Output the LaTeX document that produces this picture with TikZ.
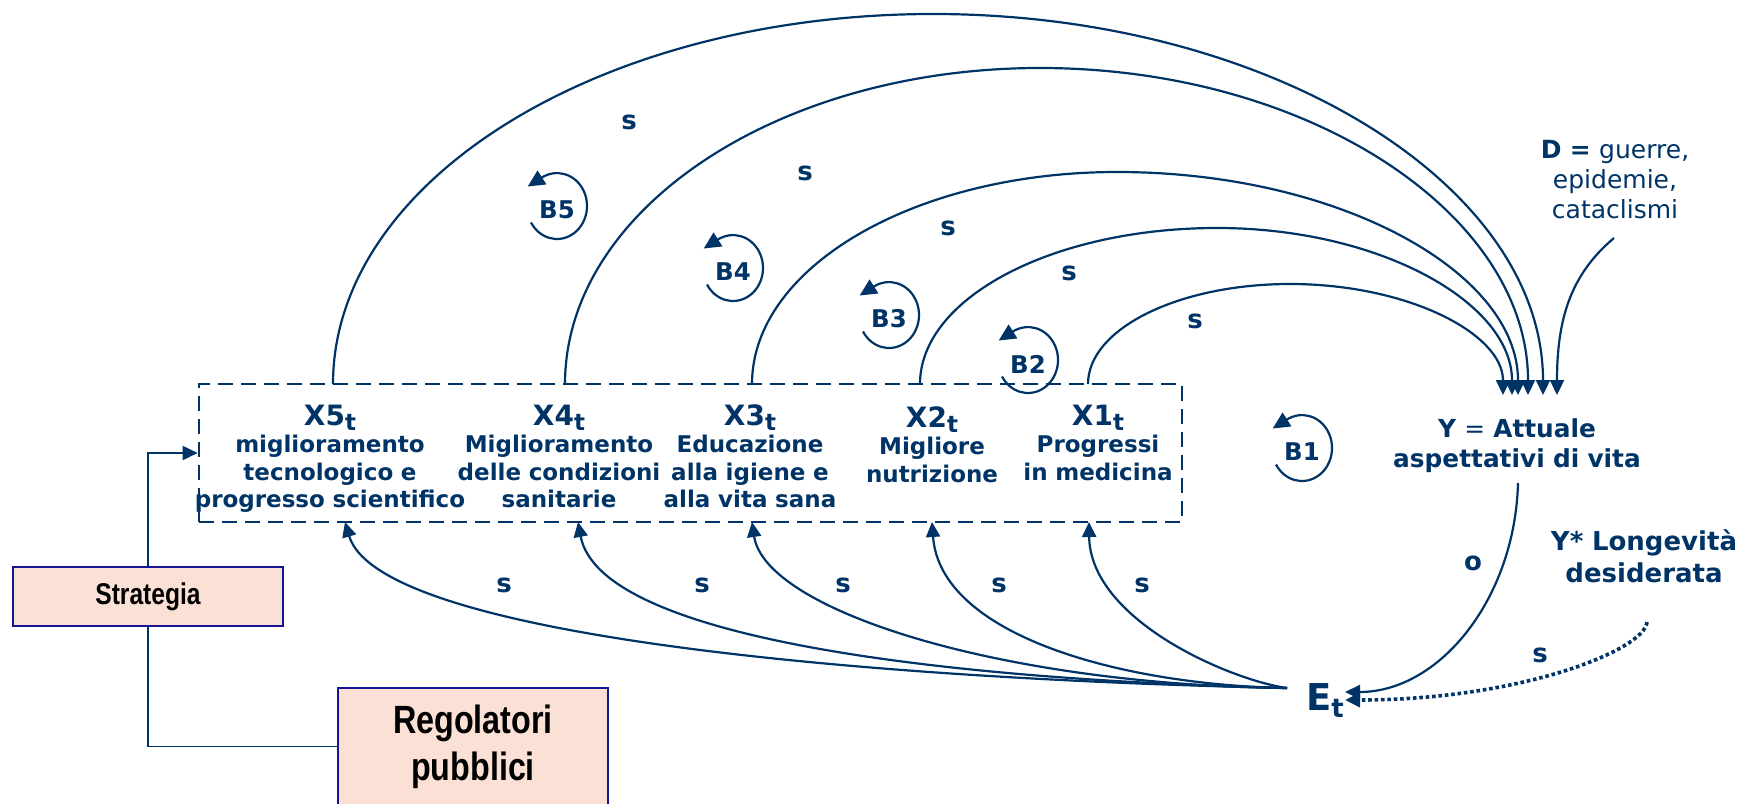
\documentclass[tikz,border=0pt]{standalone}
\usepackage{fontspec}
\setmainfont{DejaVu Sans}
\newfontfamily\narrowfont[FakeStretch=0.82]{Liberation Sans}
\usetikzlibrary{arrows.meta}
\definecolor{navy}{RGB}{0,51,102}
\definecolor{peach}{RGB}{251,225,213}
\definecolor{boxblue}{RGB}{20,20,150}
% title of a factor with its time index
\newcommand{\xt}[1]{{\fontsize{14}{16}\selectfont #1\raisebox{-2.6pt}{\fontsize{11.5}{13}\selectfont t}}}
\begin{document}
\begin{tikzpicture}[x=0.5pt, y=-0.5pt,
  ink/.style={text=navy, inner sep=0pt},
  xgroup/.style={ink, anchor=base, text width=170pt, align=center,
    font=\bfseries\fontsize{11.5}{13.75}\selectfont},
  slabel/.style={ink, font=\bfseries\fontsize{13}{15}\selectfont},
  bname/.style={ink, font=\bfseries\fontsize{12.2}{14}\selectfont},
  link/.style={draw=navy, line width=1.1pt},
  headarrow/.style={-{Triangle[length=7.5pt,width=7pt]}},
  turn/.style={link, -{Triangle[length=8.5pt,width=8pt]}, shorten >=-8.5pt},
  pbox/.style={draw=boxblue, fill=peach, line width=1pt, text=black, inner sep=0pt},
  conn/.style={draw=navy, line width=0.85pt}]
\useasboundingbox (0,0) rectangle (1750,803);

% dashed frame around the five factors
\node[draw=navy, line width=1.3pt, dash pattern=on 7.5pt off 4pt,
      minimum width=491.5pt, minimum height=69pt, inner sep=0pt] (box) at (690.5,453) {};

% factors
\node[xgroup] (x5) at (330,425) {\xt{X5}\\miglioramento\\tecnologico e\\progresso scientifico};
\node[xgroup] (x4) at (559,425) {\xt{X4}\\Miglioramento\\delle condizioni\\sanitarie};
\node[xgroup] (x3) at (750,425) {\xt{X3}\\Educazione\\alla igiene e\\alla vita sana};
\node[xgroup] (x2) at (932,427) {\xt{X2}\\Migliore\\nutrizione};
\node[xgroup] (x1) at (1098,425) {\xt{X1}\\Progressi\\in medicina};

% outcome, disturbances, goal, gap
\node[ink, anchor=base, text width=170pt, align=center,
      font=\bfseries\fontsize{12.4}{15}\selectfont] (Y) at (1517,437)
      {Y {\mdseries =} Attuale\\aspettativi di vita};
\node[ink, anchor=base, text width=110pt, align=center,
      font=\fontsize{12.5}{15}\selectfont] (D) at (1615,158)
      {\textbf{D =} guerre,\\epidemie,\\cataclismi};
\node[ink, anchor=base, text width=110pt, align=center,
      font=\bfseries\fontsize{13}{16}\selectfont] (Ys) at (1644,550)
      {Y* Longevità\\desiderata};
\node[ink, anchor=base, font=\bfseries\fontsize{18.5}{22}\selectfont] (E) at (1325,710)
      {E\raisebox{-3.5pt}{\fontsize{13}{15}\selectfont t}};

% policy boxes
\node[pbox, minimum width=135pt, minimum height=29.5pt,
      font=\narrowfont\bfseries\fontsize{15}{18}\selectfont] (strat) at (148,596.5) {Strategia};
\node[pbox, minimum width=135pt, minimum height=58.5pt, align=center,
      font=\narrowfont\bfseries\fontsize{19.7}{23.5}\selectfont] (reg) at (473,746.5) {Regolatori\\pubblici};
\draw[conn, headarrow] (strat.north) |- (box.west);
\draw[conn] (strat.south) |- (reg.west);

% attachment points
\coordinate (t5) at (333,384);  \coordinate (t4) at (565,384);
\coordinate (t3) at (752,384);  \coordinate (t2) at (920,384);
\coordinate (t1) at (1088,384);
\coordinate (p5) at (933,14);   \coordinate (p4) at (1040,68);
\coordinate (p3) at (1117,172); \coordinate (p2) at (1217,228);
\coordinate (p1) at (1290,284);
\coordinate (y5) at (1543,395); \coordinate (y4) at (1528,395);
\coordinate (y3) at (1518,395); \coordinate (y2) at (1512,395);
\coordinate (y1) at (1503,395); \coordinate (yd) at (1557,395);
\coordinate (b5) at (345,522);  \coordinate (b4) at (578,522);
\coordinate (b3) at (752,522);  \coordinate (b2) at (932,522);
\coordinate (b1) at (1089,522);
\coordinate (ein) at (1287,688);
\coordinate (eo) at (1345,692); \coordinate (ed) at (1345,700);
\coordinate (ybot) at (1518,483);
\coordinate (dsrc) at (1614,238);
\coordinate (ysrc) at (1647,622);

% factors feed the outcome
\draw[link, headarrow] (t5) .. controls +(0,-204.4) and +(-331.4,0) .. (p5)
                            .. controls +(336.9,0) and +(0,-210.4) .. (y5);
\draw[link, headarrow] (t4) .. controls +(0,-174.5) and +(-262.3,0) .. (p4)
                            .. controls +(269.5,0) and +(0,-180.6) .. (y4);
\draw[link, headarrow] (t3) .. controls +(0,-117.1) and +(-201.6,0) .. (p3)
                            .. controls +(221.5,0) and +(0,-123.2) .. (y3);
\draw[link, headarrow] (t2) .. controls +(0,-86.2) and +(-164,0) .. (p2)
                            .. controls +(162.9,0) and +(0,-92.2) .. (y2);
\draw[link, headarrow] (t1) .. controls +(0,-55.2) and +(-111.6,0) .. (p1)
                            .. controls +(117.6,0) and +(0,-61.3) .. (y1);
\draw[link, headarrow] (dsrc) .. controls (1570,275) and (1557,320) .. (yd);

% gap drives the factors
\draw[link, headarrow] (ein) .. controls (900,680) and (380,640) .. (b5);
\draw[link, headarrow] (ein) .. controls (950,680) and (600,640) .. (b4);
\draw[link, headarrow] (ein) .. controls (1000,685) and (765,610) .. (b3);
\draw[link, headarrow] (ein) .. controls (1120,685) and (940,635) .. (b2);
\draw[link, headarrow] (ein) .. controls (1230,680) and (1090,620) .. (b1);

% outcome and goal close the loop on the gap
\draw[link, headarrow] (ybot) .. controls (1515,598) and (1440,692) .. (eo);
\draw[draw=navy, line width=1.8pt, dash pattern=on 1.8pt off 1.4pt, headarrow]
     (ysrc) .. controls (1645,650) and (1520,700) .. (ed);

% polarity labels
\node[slabel] (s5) at (629,122) {s};
\node[slabel] (s4) at (805,173) {s};
\node[slabel] (s3) at (948,228) {s};
\node[slabel] (s2) at (1069,273) {s};
\node[slabel] (s1) at (1195,321) {s};
\node[slabel] (r5) at (504,585) {s};
\node[slabel] (r4) at (702,585) {s};
\node[slabel] (r3) at (843,585) {s};
\node[slabel] (r2) at (999,585) {s};
\node[slabel] (r1) at (1142,585) {s};
\node[slabel] (so) at (1473,563) {o};
\node[slabel] (sy) at (1540,655) {s};

% balancing loops
\node[bname] (B5) at (557,210) {B5};
\node[bname] (B4) at (733,272) {B4};
\node[bname] (B3) at (889,319) {B3};
\node[bname] (B2) at (1028,364) {B2};
\node[bname] (B1) at (1302,452) {B1};
\foreach \b in {B5,B4,B3,B2,B1}
  \draw[turn] (\b.center) ++(0,-4) ++(150:30 and 33)
        arc[start angle=150, end angle=-120, x radius=30, y radius=33];
\end{tikzpicture}
\end{document}
